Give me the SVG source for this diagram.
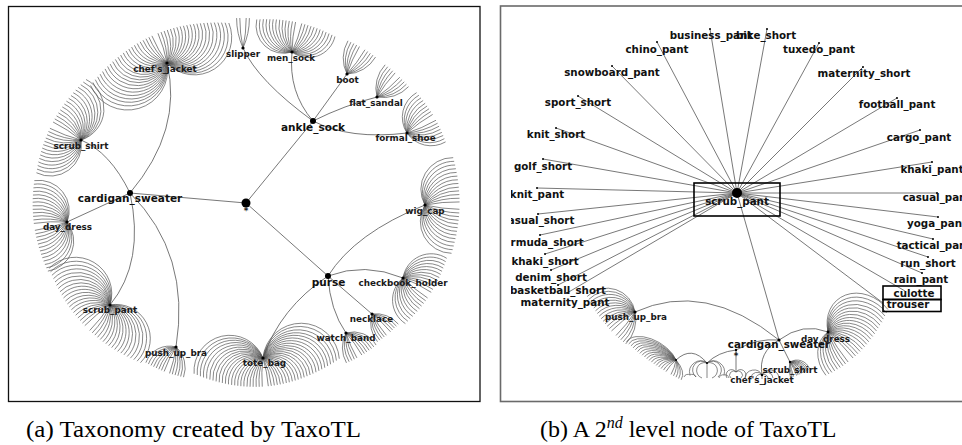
<svg xmlns="http://www.w3.org/2000/svg" width="962" height="445" viewBox="0 0 962 445">
<defs>
<style>
.frameA{fill:none;stroke:#111;stroke-width:1.3}
.frameB{fill:none;stroke:#6a6a6a;stroke-width:1.6}
.e{fill:none;stroke:#555;stroke-width:.8}
.fan{fill:none;stroke:#555;stroke-width:.7}
.t1{font-family:"DejaVu Sans",sans-serif;font-size:10.5px;font-weight:bold;fill:#111;text-anchor:middle}
.t2{font-family:"DejaVu Sans",sans-serif;font-size:8.8px;font-weight:bold;fill:#1a1a1a;text-anchor:middle}
.tb{font-family:"DejaVu Sans",sans-serif;font-size:10.3px;font-weight:bold;fill:#111;text-anchor:middle}
.cap{font-family:"Liberation Serif","Times New Roman",serif;font-size:24px;fill:#000}
.box{fill:none;stroke:#000;stroke-width:1.6}
.dot{fill:#000}
</style>
<clipPath id="clipB"><rect x="511" y="7" width="451" height="394"/></clipPath>
<g id="h1"><path vector-effect="non-scaling-stroke" d="M0,0A141.8 141.8 0 0 1 3.2 30"/></g>
<g id="h2"><use href="#h1"/><path vector-effect="non-scaling-stroke" d="M0,0A72.8 72.8 0 0 1 6.4 29.9"/></g>
<g id="h3"><use href="#h2"/><path vector-effect="non-scaling-stroke" d="M0,0A50.6 50.6 0 0 1 9.6 29.7"/></g>
<g id="h4"><use href="#h3"/><path vector-effect="non-scaling-stroke" d="M0,0A40.2 40.2 0 0 1 12.8 29.4"/></g>
<g id="h5"><use href="#h4"/><path vector-effect="non-scaling-stroke" d="M0,0A34.4 34.4 0 0 1 16 29.1"/></g>
<g id="h6"><use href="#h5"/><path vector-effect="non-scaling-stroke" d="M0,0A31 31 0 0 1 19.2 28.7"/></g>
<g id="h7"><use href="#h6"/><path vector-effect="non-scaling-stroke" d="M0,0A29 29 0 0 1 22.4 28.2"/></g>
<g id="h8"><use href="#h7"/><path vector-effect="non-scaling-stroke" d="M0,0A27.7 27.7 0 0 1 25.6 27.7"/></g>
<g id="h9"><use href="#h8"/><path vector-effect="non-scaling-stroke" d="M0,0A27.1 27.1 0 0 1 28.8 27"/></g>
<g id="h10"><use href="#h9"/><path vector-effect="non-scaling-stroke" d="M0,0A26.8 26.8 0 0 1 32 26.3"/></g>
<g id="h11"><use href="#h10"/><path vector-effect="non-scaling-stroke" d="M0,0A26.9 26.9 0 0 1 35.2 25.6"/></g>
<g id="h12"><use href="#h11"/><path vector-effect="non-scaling-stroke" d="M0,0A27.2 27.2 0 0 1 38.4 24.7"/></g>
<g id="h13"><use href="#h12"/><path vector-effect="non-scaling-stroke" d="M0,0A27.6 27.6 0 0 1 41.6 23.8"/></g>
<g id="h14"><use href="#h13"/><path vector-effect="non-scaling-stroke" d="M0,0A28.2 28.2 0 0 1 44.8 22.8"/></g>
<g id="h15"><use href="#h14"/><path vector-effect="non-scaling-stroke" d="M0,0A28.9 28.9 0 0 1 48 21.8"/></g>
<g id="h16"><use href="#h15"/><path vector-effect="non-scaling-stroke" d="M0,0A29.8 29.8 0 0 1 51.2 20.6"/></g>
<g id="h17"><use href="#h16"/><path vector-effect="non-scaling-stroke" d="M0,0A30.7 30.7 0 0 1 54.4 19.4"/></g>
<g id="h18"><use href="#h17"/><path vector-effect="non-scaling-stroke" d="M0,0A31.7 31.7 0 0 1 57.6 18.2"/></g>
<g id="h19"><use href="#h18"/><path vector-effect="non-scaling-stroke" d="M0,0A32.7 32.7 0 0 1 60.8 16.8"/></g>
<g id="h20"><use href="#h19"/><path vector-effect="non-scaling-stroke" d="M0,0A33.8 33.8 0 0 1 64 15.4"/></g>
<g id="h21"><use href="#h20"/><path vector-effect="non-scaling-stroke" d="M0,0A35 35 0 0 1 67.2 13.9"/></g>
<g id="h22"><use href="#h21"/><path vector-effect="non-scaling-stroke" d="M0,0A36.3 36.3 0 0 1 70.4 12.3"/></g>
<g id="h23"><use href="#h22"/><path vector-effect="non-scaling-stroke" d="M0,0A37.6 37.6 0 0 1 73.6 10.7"/></g>
<g id="h24"><use href="#h23"/><path vector-effect="non-scaling-stroke" d="M0,0A38.9 38.9 0 0 1 76.8 8.9"/></g>
<g id="h25"><use href="#h24"/><path vector-effect="non-scaling-stroke" d="M0,0A40.3 40.3 0 0 1 80 7.2"/></g>
<g id="h26"><use href="#h25"/><path vector-effect="non-scaling-stroke" d="M0,0A41.8 41.8 0 0 1 83.2 5.3"/></g>
</defs>
<rect width="962" height="445" fill="#fff"/>

<!-- Panel (a) -->
<rect class="frameA" x="8.5" y="6.5" width="471.5" height="395"/>
<g id="connectors-a">
  <g id="fans-a" class="fan">
    <g transform="translate(167,63) rotate(157)"><use href="#h24" transform="scale(1.03)"/><use href="#h22" transform="scale(-1.03,1.03)"/></g>
    <g transform="translate(81,140) rotate(116.7)"><use href="#h14" transform="scale(1.1)"/><use href="#h16" transform="scale(-1.1,1.1)"/></g>
    <g transform="translate(67,222) rotate(81.5)"><use href="#h13" transform="scale(1.1)"/><use href="#h13" transform="scale(-1.1,1.1)"/></g>
    <g transform="translate(110,305) rotate(44.6)"><use href="#h18" transform="scale(1.08)"/><use href="#h20" transform="scale(-1.08,1.08)"/></g>
    <g transform="translate(176,347) rotate(19.8)"><use href="#h6" transform="scale(.9)"/><use href="#h8" transform="scale(-.9,.9)"/></g>
    <g transform="translate(263,358) rotate(-4.6)"><use href="#h25" transform="scale(.95)"/><use href="#h23" transform="scale(-.95,.95)"/></g>
    <g transform="translate(346,333) rotate(-29.7)"><use href="#h7" transform="scale(.9)"/><use href="#h5" transform="scale(-.9,.9)"/></g>
    <g transform="translate(372,314) rotate(-40.1)"><use href="#h5" transform="scale(.85)"/><use href="#h5" transform="scale(-.85,.85)"/></g>
    <g transform="translate(403,278) rotate(-57)"><use href="#h12" transform="scale(1.05)"/><use href="#h11" transform="scale(-1.05,1.05)"/></g>
    <g transform="translate(425,205) rotate(-89)"><use href="#h13" transform="scale(1.15)"/><use href="#h13" transform="scale(-1.15,1.15)"/></g>
    <g transform="translate(407,133) rotate(-119.8)"><use href="#h9" transform="scale(1.05)"/><use href="#h8" transform="scale(-1.05,1.05)"/></g>
    <g transform="translate(377,97) rotate(-137)"><use href="#h5"/><use href="#h5" transform="scale(-1,1)"/></g>
    <g transform="translate(347,74) rotate(-149.5)"><use href="#h5"/><use href="#h5" transform="scale(-1,1)"/></g>
    <g transform="translate(292,52) rotate(-167.1)"><use href="#h13"/><use href="#h12" transform="scale(-1,1)"/></g>
    <g transform="translate(243,48) rotate(180)"><use href="#h2"/><use href="#h2" transform="scale(-1,1)"/></g>
  </g>
  <g id="edges-a" class="e">
    <path d="M246,203L313,121"/>
    <path d="M246,203L130,193"/>
    <path d="M246,203L328,276"/>
    <path d="M130,193Q183,130 167,63"/>
    <path d="M130,193Q110,152 81,140"/>
    <path d="M130,193L67,222"/>
    <path d="M130,193Q145,262 110,305"/>
    <path d="M130,193Q191,254 176,347"/>
    <path d="M313,121Q258,81 243,48"/>
    <path d="M313,121Q288,92 292,52"/>
    <path d="M313,121L347,74"/>
    <path d="M313,121Q345,105 377,97"/>
    <path d="M313,121Q350,140 407,133"/>
    <path d="M328,276Q355,233 425,205"/>
    <path d="M328,276Q365,262 403,278"/>
    <path d="M328,276L372,314"/>
    <path d="M328,276Q330,310 346,333"/>
    <path d="M328,276Q280,308 263,358"/>
  </g>
</g>
<g id="nodes-a">
  <g id="a-root"><circle class="dot" cx="246" cy="203" r="4.5"/><text class="t2" x="246" y="214" font-size="8">*</text></g>
  <g id="a-ankle_sock"><circle class="dot" cx="313" cy="121" r="3"/><text class="t1" x="313" y="131">ankle_sock</text></g>
  <g id="a-cardigan_sweater"><circle class="dot" cx="130" cy="193" r="3"/><text class="t1" x="130" y="202">cardigan_sweater</text></g>
  <g id="a-purse"><circle class="dot" cx="328" cy="276" r="3"/><text class="t1" x="328.5" y="286">purse</text></g>
  <g id="a-chefs_jacket"><circle class="dot" cx="167" cy="63" r="1.6"/><text class="t2" x="165" y="72">chef's_jacket</text></g>
  <g id="a-scrub_shirt"><circle class="dot" cx="81" cy="140" r="1.6"/><text class="t2" x="81" y="149">scrub_shirt</text></g>
  <g id="a-day_dress"><circle class="dot" cx="67" cy="222" r="1.6"/><text class="t2" x="67.5" y="230">day_dress</text></g>
  <g id="a-scrub_pant"><circle class="dot" cx="110" cy="305" r="1.6"/><text class="t2" x="110" y="313">scrub_pant</text></g>
  <g id="a-push_up_bra"><circle class="dot" cx="176" cy="347" r="1.6"/><text class="t2" x="176" y="356">push_up_bra</text></g>
  <g id="a-slipper"><circle class="dot" cx="243" cy="48" r="1.6"/><text class="t2" x="243" y="57">slipper</text></g>
  <g id="a-men_sock"><circle class="dot" cx="292" cy="52" r="1.6"/><text class="t2" x="291" y="61">men_sock</text></g>
  <g id="a-boot"><circle class="dot" cx="347" cy="74" r="1.6"/><text class="t2" x="347.5" y="83">boot</text></g>
  <g id="a-flat_sandal"><circle class="dot" cx="377" cy="97" r="1.6"/><text class="t2" x="376" y="106">flat_sandal</text></g>
  <g id="a-formal_shoe"><circle class="dot" cx="407" cy="133" r="1.6"/><text class="t2" x="405.5" y="141">formal_shoe</text></g>
  <g id="a-wig_cap"><circle class="dot" cx="425" cy="205" r="1.6"/><text class="t2" x="425" y="214">wig_cap</text></g>
  <g id="a-checkbook_holder"><circle class="dot" cx="403" cy="278" r="1.6"/><text class="t2" x="403" y="286">checkbook_holder</text></g>
  <g id="a-necklace"><circle class="dot" cx="372" cy="314" r="1.6"/><text class="t2" x="371.5" y="322">necklace</text></g>
  <g id="a-watch_band"><circle class="dot" cx="346" cy="333" r="1.6"/><text class="t2" x="346" y="341">watch_band</text></g>
  <g id="a-tote_bag"><circle class="dot" cx="263" cy="358" r="1.6"/><text class="t2" x="264.5" y="366">tote_bag</text></g>
</g>

<!-- Panel (b) -->
<rect class="frameB" x="500.5" y="6" width="480" height="395.5"/>
<g clip-path="url(#clipB)">
<g id="connectors-b">
  <g id="fans-b" class="fan">
    <g transform="translate(635,312) rotate(45)"><use href="#h5"/><use href="#h14" transform="scale(-1,1)"/></g>
    <g transform="translate(828,332) rotate(-38.9)"><use href="#h19" transform="scale(1,1.2)"/><use href="#h9" transform="scale(-1,1.2)"/></g>
    <g transform="translate(790,362) rotate(-20)"><use href="#h10" transform="scale(.5)"/><use href="#h3" transform="scale(-.5,.5)"/></g>
    <g transform="translate(676,360) rotate(30)"><use href="#h5" transform="scale(.9,.5)"/><use href="#h18" transform="scale(-.9,.5)"/></g>
    <path d="M762,375A9,9 0 0 0 745,378M762,375A6,6 0 0 0 751,378M762,375A4,4 0 0 0 756,379M762,375L762,379M762,375A4,4 0 0 1 768,379M762,375A6,6 0 0 1 773,378M762,375A9,9 0 0 1 779,378"/>
    <path d="M707,363A11,11 0 0 0 690,375M707,363A8,8 0 0 0 696,377M707,363A5,5 0 0 0 702,378M707,363L707,378M707,363A5,5 0 0 1 712,378M707,363A8,8 0 0 1 718,377M707,363A11,11 0 0 1 724,375"/>
    <path d="M736,372A5,5 0 0 0 727,378M736,372A5,5 0 0 1 745,378M736,372A3,3 0 0 0 731,378M736,372A3,3 0 0 1 741,378"/>
    <path d="M690,375A4,4 0 0 0 684,377M690,375A4,4 0 0 1 696,377M724,375A4,4 0 0 0 719,378M724,375A4,4 0 0 1 729,378"/>
  </g>
  <g id="edges-b" class="e">
    <path d="M737,193L710,29M737,193L767,29M737,193L657,42M737,193L819,43M737,193L612,66M737,193L863,67M737,193L578,96M737,193L897,98M737,193L556,128M737,193L920,130M737,193L543,159M737,193L932,162M737,193L537,188M737,193L937,193M737,193L538,214M737,193L938,217M737,193L540,235M737,193L933,239M737,193L545,254M737,193L928,257M737,193L551,270M737,193L922,273M737,193L558,285M737,193L905,291M737,193L567,293M737,193L883,303"/>
    <path d="M737,193L779,340L790,362"/>
    <path d="M779,340Q705,280 635,312"/>
    <path d="M779,340Q803,322 828,332"/>
    <path d="M779,340Q758,352 762,375"/>
    <path d="M736,350Q757,338 779,340"/>
    <path d="M736,350L736,372"/>
    <path d="M736,350Q718,352 707,363"/>
    <path d="M676,360Q692,345 707,363"/>
  </g>
</g>
<g id="nodes-b">
  <g id="b-scrub_pant"><rect class="box" x="694" y="183" width="86" height="33"/><circle class="dot" cx="737" cy="193" r="5"/><text class="tb" x="737" y="205">scrub_pant</text></g>
  <g id="b-business_pant"><circle class="dot" cx="710" cy="29" r="1"/><text class="tb" x="711" y="39">business_pant</text></g>
  <g id="b-bike_short"><circle class="dot" cx="767" cy="29" r="1"/><text class="tb" x="766" y="39">bike_short</text></g>
  <g id="b-chino_pant"><circle class="dot" cx="657" cy="42" r="1"/><text class="tb" x="657" y="53">chino_pant</text></g>
  <g id="b-tuxedo_pant"><circle class="dot" cx="819" cy="43" r="1"/><text class="tb" x="819" y="53">tuxedo_pant</text></g>
  <g id="b-snowboard_pant"><circle class="dot" cx="612" cy="66" r="1"/><text class="tb" x="612" y="76">snowboard_pant</text></g>
  <g id="b-maternity_short"><circle class="dot" cx="863" cy="67" r="1"/><text class="tb" x="864" y="77">maternity_short</text></g>
  <g id="b-sport_short"><circle class="dot" cx="578" cy="96" r="1"/><text class="tb" x="578" y="106">sport_short</text></g>
  <g id="b-football_pant"><circle class="dot" cx="897" cy="98" r="1"/><text class="tb" x="897" y="108">football_pant</text></g>
  <g id="b-knit_short"><circle class="dot" cx="556" cy="128" r="1"/><text class="tb" x="556" y="138">knit_short</text></g>
  <g id="b-cargo_pant"><circle class="dot" cx="920" cy="130" r="1"/><text class="tb" x="919" y="141">cargo_pant</text></g>
  <g id="b-golf_short"><circle class="dot" cx="543" cy="159" r="1"/><text class="tb" x="543" y="170">golf_short</text></g>
  <g id="b-khaki_pant"><circle class="dot" cx="932" cy="162" r="1"/><text class="tb" x="932" y="173">khaki_pant</text></g>
  <g id="b-knit_pant"><circle class="dot" cx="537" cy="188" r="1"/><text class="tb" x="537" y="198">knit_pant</text></g>
  <g id="b-casual_pant"><circle class="dot" cx="937" cy="193" r="1"/><text class="tb" x="937" y="201">casual_pant</text></g>
  <g id="b-casual_short"><circle class="dot" cx="538" cy="214" r="1"/><text class="tb" x="538" y="224">casual_short</text></g>
  <g id="b-yoga_pant"><circle class="dot" cx="938" cy="217" r="1"/><text class="tb" x="937" y="227">yoga_pant</text></g>
  <g id="b-bermuda_short"><circle class="dot" cx="540" cy="235" r="1"/><text class="tb" x="540" y="246">bermuda_short</text></g>
  <g id="b-tactical_pant"><circle class="dot" cx="933" cy="239" r="1"/><text class="tb" x="934" y="249">tactical_pant</text></g>
  <g id="b-khaki_short"><circle class="dot" cx="545" cy="254" r="1"/><text class="tb" x="545" y="265">khaki_short</text></g>
  <g id="b-run_short"><circle class="dot" cx="928" cy="257" r="1"/><text class="tb" x="928" y="267">run_short</text></g>
  <g id="b-denim_short"><circle class="dot" cx="551" cy="270" r="1"/><text class="tb" x="551" y="281">denim_short</text></g>
  <g id="b-rain_pant"><circle class="dot" cx="922" cy="273" r="1"/><text class="tb" x="921" y="283">rain_pant</text></g>
  <g id="b-basketball_short"><circle class="dot" cx="558" cy="285" r="1"/><text class="tb" x="558" y="294">basketball_short</text></g>
  <g id="b-maternity_pant"><circle class="dot" cx="567" cy="293" r="1"/><text class="tb" x="565" y="306">maternity_pant</text></g>
  <g id="b-culotte"><rect class="box" x="883" y="286" width="58" height="13.5"/><text class="tb" x="914" y="296.5" font-size="10">culotte</text></g>
  <g id="b-trouser"><rect class="box" x="883" y="299.5" width="58" height="12"/><text class="tb" x="908" y="308" font-size="10">trouser</text></g>
  <g id="b-cardigan_sweater"><circle class="dot" cx="779" cy="340" r="1.6"/><text class="tb" x="779" y="348" font-size="10">cardigan_sweater</text></g>
  <g id="b-push_up_bra"><circle class="dot" cx="635" cy="312" r="1.6"/><text class="t2" x="636" y="320" font-size="9">push_up_bra</text></g>
  <g id="b-day_dress"><circle class="dot" cx="828" cy="332" r="1.4"/><text class="t2" x="825.5" y="342">day_dress</text></g>
  <g id="b-scrub_shirt"><circle class="dot" cx="790" cy="362" r="1.2"/><text class="t2" x="790" y="373">scrub_shirt</text></g>
  <g id="b-chefs_jacket"><circle class="dot" cx="762" cy="375" r="1.2"/><text class="t2" x="762" y="383">chef's_jacket</text></g>
  <g id="b-root"><circle class="dot" cx="736" cy="350" r="1.2"/><text class="t2" x="736" y="359" font-size="7">*</text></g>
  <g id="b-node-707"><circle class="dot" cx="707" cy="363" r="1"/></g>
  <g id="b-node-676"><circle class="dot" cx="676" cy="360" r="1"/></g>
</g>
</g>

<!-- Captions -->
<text class="cap" x="26" y="437" textLength="335" lengthAdjust="spacingAndGlyphs">(a) Taxonomy created by TaxoTL</text>
<text class="cap" x="540" y="437" font-size="24.6">(b) A 2<tspan font-size="16" font-style="italic" dy="-9">nd</tspan><tspan dy="9"> level node of TaxoTL</tspan></text>
</svg>
